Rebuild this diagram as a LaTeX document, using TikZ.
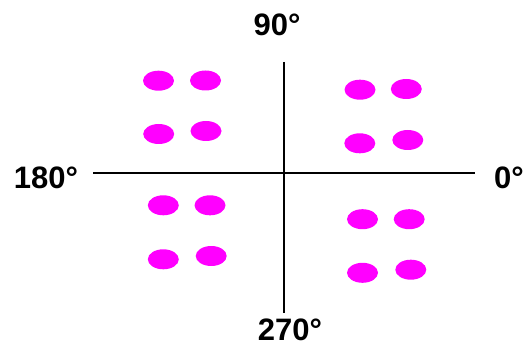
\documentclass[tikz,border=0pt]{standalone}
\usepackage{fontspec}
\setmainfont{Liberation Sans}
\usetikzlibrary{shapes.geometric}
\definecolor{dotMagenta}{RGB}{255,0,255}
\colorlet{AxisInk}{black}

\begin{document}
\begin{tikzpicture}[x=1pt,y=-1pt,
      dot/.style={ellipse,fill=dotMagenta,draw=none,inner sep=0pt,
        minimum width=31pt,minimum height=20pt},
      axis/.style={draw=AxisInk,line width=1.7pt},
      angle/.style={inner sep=0pt,text=AxisInk,
        font=\bfseries\fontsize{31}{35}\selectfont}]
    \useasboundingbox (0,0) rectangle (524,347);

    % Axes et graduations angulaires.
    \coordinate (west) at (93,173);
    \coordinate (east) at (475,173);
    \coordinate (north) at (284,62);
    \coordinate (south) at (284,313);
    \draw[axis] (west) -- (east);
    \draw[axis] (north) -- (south);
    \node[angle] (deg90) at (277,25) {90°};
    \node[angle] (deg180) at (46,177.5) {180°};
    \node[angle,anchor=west] (deg0) at (494,178) {0°};
    \node[angle] (deg270) at (290,330) {270°};

    % Quadrant 90--180.
    \node[dot] (nwA) at (158.5,80.7) {};
    \node[dot] (nwB) at (205.5,80.5) {};
    \node[dot] (nwC) at (158.7,134) {};
    \node[dot] (nwD) at (206,131) {};

    % Quadrant 0--90.
    \node[dot] (neA) at (360,89.7) {};
    \node[dot] (neB) at (406.3,89) {};
    \node[dot] (neC) at (359.8,143.3) {};
    \node[dot] (neD) at (407.8,140) {};

    % Quadrant 180--270.
    \node[dot] (swA) at (163.3,205.3) {};
    \node[dot] (swB) at (210,205.3) {};
    \node[dot] (swC) at (163.3,259.3) {};
    \node[dot] (swD) at (211.2,256) {};

    % Quadrant 270--360.
    \node[dot] (seA) at (362.5,219.2) {};
    \node[dot] (seB) at (409.2,219.2) {};
    \node[dot] (seC) at (362.5,272.8) {};
    \node[dot] (seD) at (410.8,269.7) {};
  \end{tikzpicture}
\end{document}
